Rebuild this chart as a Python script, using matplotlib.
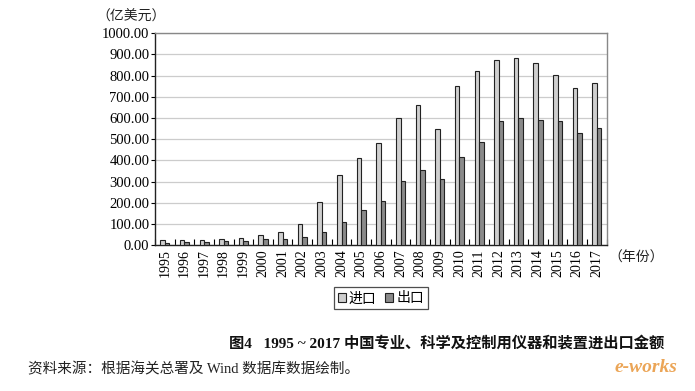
import matplotlib
matplotlib.use("Agg")
import matplotlib.pyplot as plt
import numpy as np

years = [str(y) for y in range(1995, 2018)]
imports = [24, 24, 24, 27, 33, 47, 60, 98, 203, 331, 409, 483, 598, 661, 550, 753, 824, 874, 882, 858, 802, 742, 764]
exports = [11, 13, 16, 19, 20, 28, 28, 38, 60, 110, 168, 208, 301, 354, 312, 417, 485, 587, 602, 589, 584, 528, 551]
yticks = [0, 100, 200, 300, 400, 500, 600, 700, 800, 900, 1000]

FAM = ['Liberation Serif', 'Noto Sans CJK SC', 'DejaVu Sans']
plt.rcParams['font.family'] = FAM

fig = plt.figure(figsize=(6.95, 3.91), dpi=100)
ax = fig.add_axes([0.223, 0.373, 0.650, 0.542])

x = np.arange(len(years))
w = 0.23
ax.bar(x - w / 2, imports, width=w, color='#cfcfcf', edgecolor='#222222', linewidth=0.8, label='进口', zorder=3)
ax.bar(x + w / 2, exports, width=w, color='#8a8a8a', edgecolor='#222222', linewidth=0.8, label='出口', zorder=3)

ax.set_xlim(-0.5, len(years) - 0.5)
ax.set_ylim(0, 1000)
ax.set_yticks(yticks)
ax.set_yticklabels([f"{v:.2f}" for v in yticks], fontsize=10.5, family='Liberation Serif')
ax.yaxis.grid(True, color='#cccccc', linewidth=0.9, zorder=0)
ax.tick_params(axis='y', direction='out', length=3, pad=1, width=0.8)

ax.set_xticks(x)
ax.set_xticklabels(years, rotation=90, fontsize=10, family='Liberation Serif')
ax.tick_params(axis='x', length=0, pad=3)
ax.set_xticks(np.arange(-0.5, len(years), 1), minor=True)
ax.tick_params(axis='x', which='minor', direction='in', length=4, width=0.8)

for s in ['left', 'bottom']:
    ax.spines[s].set_color('#222222')
    ax.spines[s].set_linewidth(1.0)
for s in ['top', 'right']:
    ax.spines[s].set_color('#888888')
    ax.spines[s].set_linewidth(1.0)

fig.text(0.138, 0.958, '（亿美元）', fontsize=10, family=['Noto Sans CJK SC'], ha='left', va='center', color='#222222')
fig.text(0.876, 0.340, '（年份）', fontsize=10, family=['Noto Sans CJK SC'], ha='left', va='center', color='#222222')

leg = fig.legend(loc='center', bbox_to_anchor=(0.548, 0.237), ncol=2, frameon=True, fancybox=False,
                 edgecolor='#222222', fontsize=10, handlelength=0.6, handleheight=0.6,
                 handletextpad=0.2, columnspacing=0.6, borderpad=0.3,
                 prop={'family': ['Noto Sans CJK SC'], 'size': 10})
leg.get_frame().set_linewidth(0.9)

fig.text(0.642, 0.123, '图4   1995 ~ 2017 中国专业、科学及控制用仪器和装置进出口金额', fontsize=11,
         family=['Liberation Serif', 'Noto Sans CJK SC'], weight='bold', ha='center', va='center', color='#111111')
fig.text(0.040, 0.055, '资料来源：根据海关总署及 Wind 数据库数据绘制。', fontsize=10.5,
         family=['Liberation Serif', 'Noto Sans CJK SC'], ha='left', va='center', color='#222222')
fig.text(0.975, 0.060, 'e-works', fontsize=14, family='Liberation Serif', style='italic', weight='bold',
         ha='right', va='center', color='#e8963a', alpha=0.85)

fig.savefig('out.png', dpi=100)
